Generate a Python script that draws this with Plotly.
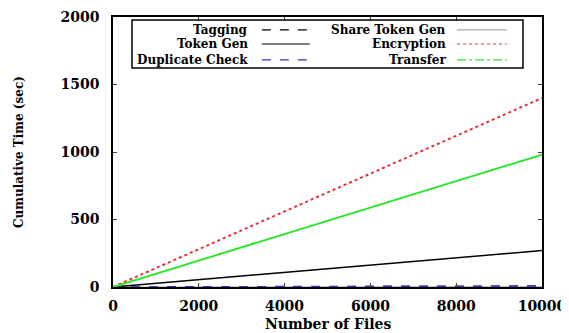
import plotly.graph_objects as go

files = [0, 2000, 4000, 6000, 8000, 10000]
tagging = [0, 1, 2, 3, 4, 5]
share_token_gen = [0, 0.5, 1, 1.5, 2, 2.5]
token_gen = [0, 54, 108, 162, 216, 270]
encryption = [0, 280, 560, 840, 1120, 1400]
duplicate_check = [0, 1.5, 3, 4.5, 6, 7.5]
transfer = [0, 196, 392, 588, 784, 980]

x_ticks = [0, 2000, 4000, 6000, 8000, 10000]
y_ticks = [0, 500, 1000, 1500, 2000]

FONT = "DejaVu Serif"

series = [
    ("Tagging", tagging, "black", "dash", 1.5, "dash"),
    ("Share Token Gen", share_token_gen, "#aaaaaa", "solid", 1, "solid"),
    ("Token Gen", token_gen, "black", "solid", 1.5, "solid"),
    ("Encryption", encryption, "#e8303a", "dot", 2, "dot"),
    ("Duplicate Check", duplicate_check, "#3030c8", "dash", 1.5, "dash"),
    ("Transfer", transfer, "#2ee62e", "solid", 2, "dashdot"),
]

fig = go.Figure()
for name, vals, color, dash, w, _ in series:
    fig.add_trace(go.Scatter(x=files, y=vals, mode="lines", name=name,
                             line=dict(color=color, dash=dash, width=w),
                             showlegend=False))

# Manual legend (text right-aligned, sample on the right), gnuplot style
rows = [0.952, 0.9, 0.841]
cols = [(0.319, 0.347, 0.459), (0.781, 0.802, 0.918)]
order = [(0, 0), (0, 1), (1, 0), (1, 1), (2, 0), (2, 1)]
for (name, vals, color, dash, w, ldash), (r, c) in zip(series, order):
    tx, s0, s1 = cols[c]
    y = rows[r]
    fig.add_annotation(x=tx, y=y, xref="paper", yref="paper", text="<b>%s</b>" % name,
                       showarrow=False, xanchor="right", yanchor="middle",
                       font=dict(family=FONT, size=12, color="black"))
    fig.add_shape(type="line", xref="paper", yref="paper", x0=s0, x1=s1, y0=y, y1=y,
                  line=dict(color=color, dash=ldash, width=1.2))

fig.add_shape(type="rect", xref="paper", yref="paper", x0=0.0443, x1=0.9557,
              y0=0.811, y1=0.989, line=dict(color="black", width=1.5),
              fillcolor="rgba(0,0,0,0)")

# axis titles
fig.add_annotation(x=0.5, y=-0.136, xref="paper", yref="paper",
                   text="<b>Number of Files</b>", showarrow=False,
                   xanchor="center", yanchor="middle",
                   font=dict(family=FONT, size=14, color="black"))
fig.add_annotation(x=-0.219, y=0.5, xref="paper", yref="paper",
                   text="<b>Cumulative Time (sec)</b>", showarrow=False, textangle=-90,
                   xanchor="center", yanchor="middle",
                   font=dict(family=FONT, size=12, color="black"))

# page body has an 8px margin, so the figure is offset by (8, 8)
fig.update_layout(
    width=561, height=325,
    margin=dict(l=105, r=27, t=9, b=46),
    paper_bgcolor="white", plot_bgcolor="white",
    font=dict(family=FONT, size=12, color="black"),
    xaxis=dict(range=[0, 10000], tickvals=x_ticks,
               ticktext=["<b>%d</b>" % v for v in x_ticks],
               ticks="inside", ticklen=4, mirror="ticks", showline=True,
               linecolor="black", linewidth=1.5, showgrid=False, zeroline=False,
               tickfont=dict(family=FONT, size=14), automargin=False,
               ticklabelstandoff=5),
    yaxis=dict(range=[0, 2000], tickvals=y_ticks,
               ticktext=["<b>%d</b>" % v for v in y_ticks],
               ticks="inside", ticklen=4, mirror="ticks", showline=True,
               linecolor="black", linewidth=1.5, showgrid=False, zeroline=False,
               tickfont=dict(family=FONT, size=14), automargin=False,
               ticklabelstandoff=9),
)

fig.write_html("out.html")
